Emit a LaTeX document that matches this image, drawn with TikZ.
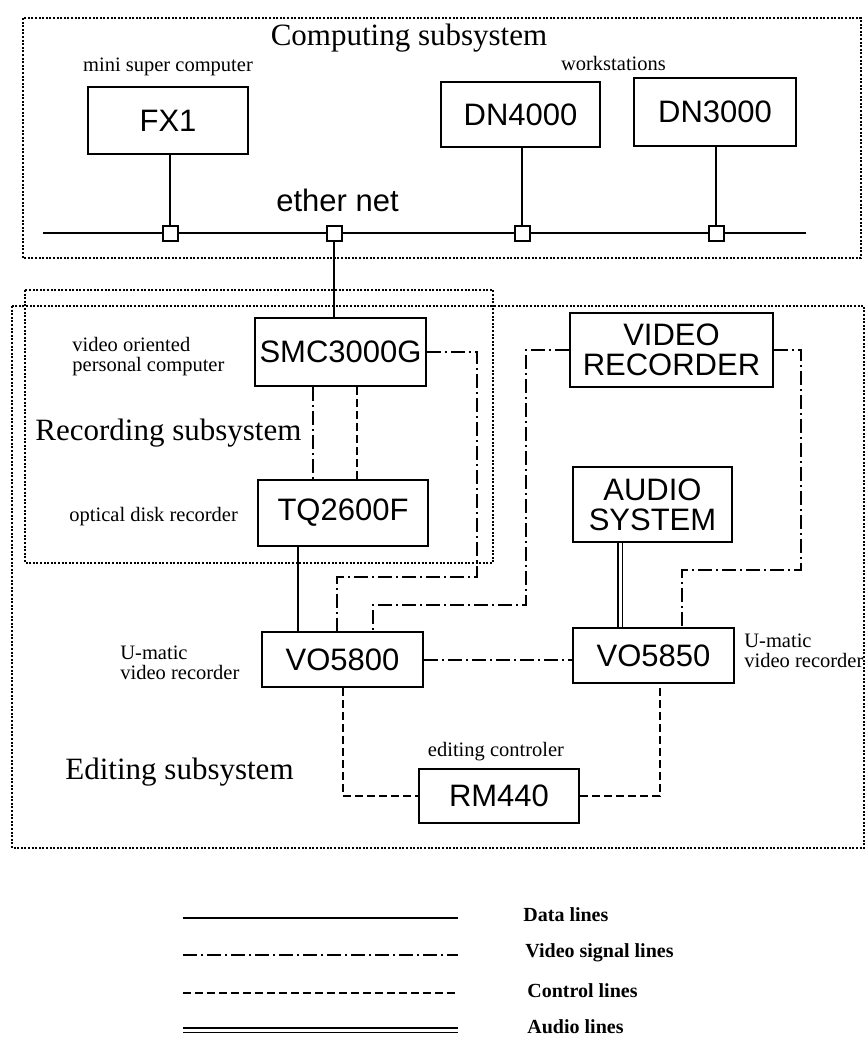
\documentclass[tikz,border=0pt]{standalone}
\usepackage{fontspec}
\setmainfont{Liberation Serif}
\setsansfont{Liberation Sans}
\tikzset{
  unit/.style    = {draw, line width=1.2pt, inner sep=0pt, align=center,
                    minimum width=80pt, minimum height=27.5pt,
                    font=\sffamily\fontsize{15.5}{15}\selectfont},
  tap/.style     = {draw, fill=white, line width=1pt, minimum size=7.5pt, inner sep=0pt},
  frame/.style   = {line width=1.2pt, dash pattern=on 1pt off 0.8pt},
  dataline/.style  = {line width=1pt},
  videoline/.style = {line width=1pt, dash pattern=on 7pt off 2pt on 1pt off 2pt},
  ctrlline/.style  = {line width=1pt, dash pattern=on 4pt off 2pt},
  audioline/.style = {line width=0.8pt, double, double distance=1.5pt},
  subsys/.style  = {font=\fontsize{15.5}{15}\selectfont, inner sep=0pt},
  lbl/.style     = {font=\fontsize{10.25}{10}\selectfont, inner sep=0pt, align=left},
  keylbl/.style  = {font=\bfseries\fontsize{10}{10}\selectfont, inner sep=0pt, anchor=west},
}

\begin{document}
\begin{tikzpicture}[x=0.5pt, y=-0.5pt]
  \useasboundingbox (0,0) rectangle (866,1040);
  % subsystem frames
  \draw[frame] (23,18) rectangle (861,258);
  \draw[frame] (25,290) rectangle (493,563);
  \draw[frame] (12,306) rectangle (864,848);
  % computing subsystem
  \node[subsys] (tcomp) at (409,38) {Computing subsystem};
  \node[lbl] (lfx) at (168,67) {mini super computer};
  \node[lbl] (lws) at (613.5,63) {workstations};
  \node[unit, minimum height=33.5pt] (fx1) at (168,120.5) {FX1};
  \node[unit, minimum width=79.5pt, minimum height=32.5pt] (dn4) at (520.5,114.5) {DN4000};
  \node[unit, minimum width=81pt, minimum height=34pt] (dn3) at (715,112) {DN3000};
  \node[font=\sffamily\fontsize{15.5}{15}\selectfont, inner sep=0pt] (leth) at (337.5,200) {ether net};
  \coordinate (ethL) at (43,233);
  \coordinate (ethR) at (806,233);
  \draw[dataline] (ethL) -- (ethR);
  \foreach \n/\x in {t1/170, t2/334, t3/522, t4/716}
    \node[tap] (\n) at (\x,233) {};
  \draw[dataline] (fx1.south -| t1) -- (t1.north);
  \draw[dataline] (dn4.south -| t3) -- (t3.north);
  \draw[dataline] (dn3.south -| t4) -- (t4.north);
  % recording subsystem
  \node[unit, minimum width=85.5pt, minimum height=34pt] (smc) at (340.5,352) {SMC3000G};
  \node[unit, minimum width=85pt, minimum height=33pt] (tq) at (343,513) {TQ2600F};
  \node[lbl, anchor=west] (lsmc) at (72,357) {video oriented\\personal computer};
  \node[subsys, anchor=west] (trec) at (35,433) {Recording subsystem};
  \node[lbl, anchor=west] (ltq) at (69,517) {optical disk recorder};
  \draw[dataline] (t2.south) -- (t2.south |- smc.north);
  \draw[videoline] ([xshift=-14pt]smc.south) -- ([xshift=-14pt]smc.south |- tq.north);
  \draw[ctrlline] ([xshift=8pt]smc.south) -- ([xshift=8pt]smc.south |- tq.north);
  % editing subsystem
  \node[unit, minimum width=101.5pt, minimum height=37pt] (vrec) at (671.5,350) {VIDEO\\RECORDER};
  \node[unit, minimum width=79.5pt, minimum height=37.5pt] (audio) at (652.5,504.5) {AUDIO\\SYSTEM};
  \node[unit, minimum width=80.5pt] (vo5800) at (342.5,659.5) {VO5800};
  \node[unit, minimum width=80.5pt] (vo5850) at (653.5,655.5) {VO5850};
  \node[unit, minimum height=27pt] (rm) at (499,796) {RM440};
  \node[lbl, anchor=west] (lvoa) at (120,663) {U-matic\\video recorder};
  \node[lbl, anchor=west] (lvob) at (744,651) {U-matic\\video recorder};
  \node[subsys, anchor=west] (tedit) at (65,772) {Editing subsystem};
  \node[lbl] (lrm) at (496,752) {editing controler};
  \draw[dataline] ([xshift=-22.5pt]tq.south) -- ([xshift=-22.5pt]tq.south |- vo5800.north);
  \draw[videoline] (smc.east) -| (477,577) -| ([xshift=-2.75pt]vo5800.north);
  \draw[videoline] (vrec.west) -| (526,605) -| ([xshift=15.25pt]vo5800.north);
  \draw[videoline] (vrec.east) -| (801,570) -| ([xshift=14.25pt]vo5850.north);
  \draw[videoline] (vo5800.east) -- (vo5800.east -| vo5850.west);
  \draw[audioline] ([xshift=-16.25pt]audio.south) -- ([xshift=-16.25pt]audio.south |- vo5850.north);
  \draw[ctrlline] (vo5800.south) |- (rm.west);
  \draw[ctrlline] (rm.east) -| ([xshift=3.25pt]vo5850.south);
  % legend
  \draw[dataline]  (183,918)  -- (458,918);
  \draw[videoline] (183,955)  -- (458,955);
  \draw[ctrlline]  (183,993)  -- (458,993);
  \draw[audioline] (183,1030) -- (458,1030);
  \node[keylbl] (kdata)  at (523,915)  {Data lines};
  \node[keylbl] (kvideo) at (525,953)  {Video signal lines};
  \node[keylbl] (kctrl)  at (527,991)  {Control lines};
  \node[keylbl] (kaudio) at (527,1027) {Audio lines};
\end{tikzpicture}
\end{document}
